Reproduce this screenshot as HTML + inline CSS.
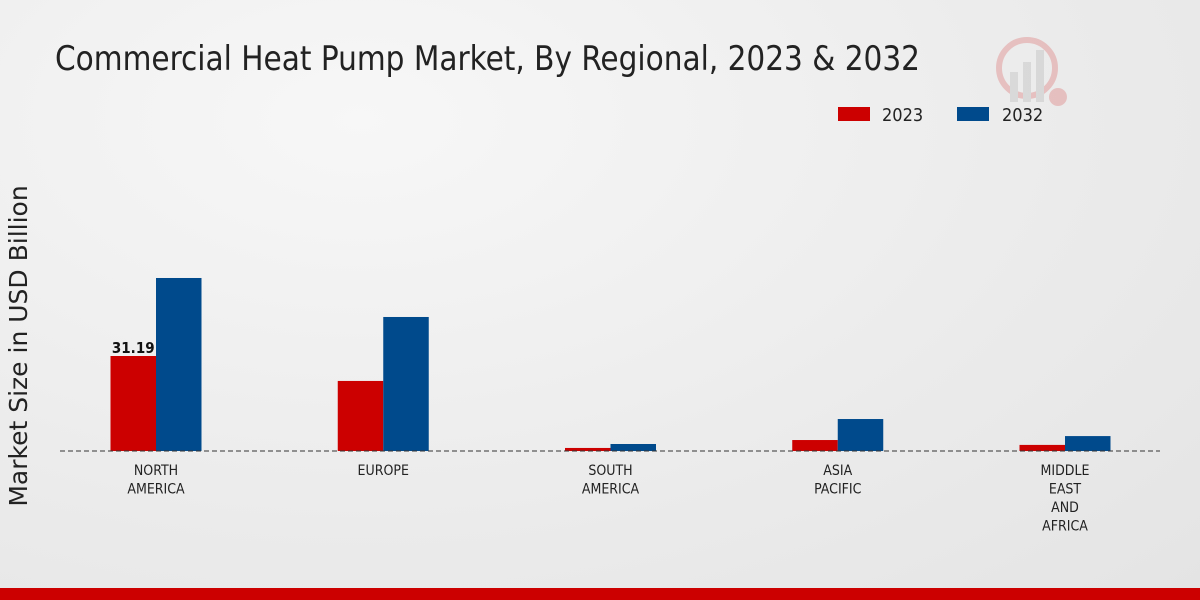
<!DOCTYPE html>
<html><head><meta charset="utf-8"><style>
html,body{margin:0;padding:0;}
body{width:1200px;height:600px;overflow:hidden;background:radial-gradient(ellipse at 30% 20%,#f7f7f7 0%,#ebebeb 60%,#e4e4e4 100%);font-family:"DejaVu Sans",sans-serif;position:relative;}
</style></head><body>
<svg id="chart" width="1200" height="600" xmlns="http://www.w3.org/2000/svg" style="position:absolute;left:0;top:0">
<text x="55" y="70" font-family="DejaVu Sans Condensed, DejaVu Sans, sans-serif" font-size="34" textLength="865" lengthAdjust="spacingAndGlyphs" fill="#222">Commercial Heat Pump Market, By Regional, 2023 &amp; 2032</text>
<g opacity="0.18">
<circle cx="1027" cy="68" r="28" fill="none" stroke="#c00" stroke-width="6"/>
<rect x="1010" y="72" width="8" height="30" fill="#888"/>
<rect x="1023" y="62" width="8" height="40" fill="#888"/>
<rect x="1036" y="50" width="8" height="52" fill="#888"/>
<circle cx="1058" cy="97" r="9" fill="#c00"/>
</g>
<g>
<rect x="838" y="107" width="32" height="14" fill="#cc0000"/>
<text x="882" y="121" font-size="18" font-family="DejaVu Sans Condensed, DejaVu Sans, sans-serif" fill="#222">2023</text>
<rect x="957" y="107" width="32" height="14" fill="#004a8c"/>
<text x="1002" y="121" font-size="18" font-family="DejaVu Sans Condensed, DejaVu Sans, sans-serif" fill="#222">2032</text>
</g>
<text transform="translate(27,346) rotate(-90)" text-anchor="middle" font-size="25" font-family="DejaVu Sans, sans-serif" fill="#222">Market Size in USD Billion</text>
<g id="bars"></g>
<line x1="60" y1="451" x2="1160" y2="451" stroke="#333" stroke-width="1" stroke-dasharray="5,3"/>
<g id="labels"></g>
<rect x="0" y="588" width="1200" height="12" fill="#cc0000"/>
</svg>
<script>
const categories=[["NORTH","AMERICA"],["EUROPE"],["SOUTH","AMERICA"],["ASIA","PACIFIC"],["MIDDLE","EAST","AND","AFRICA"]];
const values2023=[31.19,23.0,1.0,3.6,2.0];
const values2032=[56.8,44.0,2.3,10.5,4.9];
const printedLabels=["31.19",null,null,null,null];
const NS="http://www.w3.org/2000/svg";
const baseY=451, pxPerUnit=95/31.19, x0=156, step=227.25, bw=45.5;
const yS=v=>baseY-v*pxPerUnit;
const xC=i=>x0+i*step;
const bars=document.getElementById('bars'), labels=document.getElementById('labels');
categories.forEach((c,i)=>{
  [[values2023,"#cc0000",-bw,"2023"],[values2032,"#004a8c",0,"2032"]].forEach(([arr,col,off,yr])=>{
    const r=document.createElementNS(NS,'rect');
    r.setAttribute('x',xC(i)+off);r.setAttribute('y',yS(arr[i]));
    r.setAttribute('width',bw);r.setAttribute('height',baseY-yS(arr[i]));r.setAttribute('fill',col);
    
    
    bars.appendChild(r);
  });
  if(printedLabels[i]){
    const t=document.createElementNS(NS,'text');
    t.setAttribute('x',xC(i)-bw/2);t.setAttribute('y',yS(values2023[i])-3);
    t.setAttribute('text-anchor','middle');t.setAttribute('font-size','15');t.setAttribute('font-weight','bold');t.setAttribute('fill','#111');
    t.setAttribute('font-family','DejaVu Sans Condensed, DejaVu Sans, sans-serif');
    t.textContent=printedLabels[i];
    
    
    labels.appendChild(t);
  }
  c.forEach((line,j)=>{
    const t=document.createElementNS(NS,'text');
    t.setAttribute('x',xC(i));t.setAttribute('y',475+j*18.5);
    t.setAttribute('text-anchor','middle');t.setAttribute('font-size','14');t.setAttribute('fill','#222');
    t.setAttribute('font-family','DejaVu Sans Condensed, DejaVu Sans, sans-serif');
    t.textContent=line;
    
    
    labels.appendChild(t);
  });
});
</script>
</body></html>
